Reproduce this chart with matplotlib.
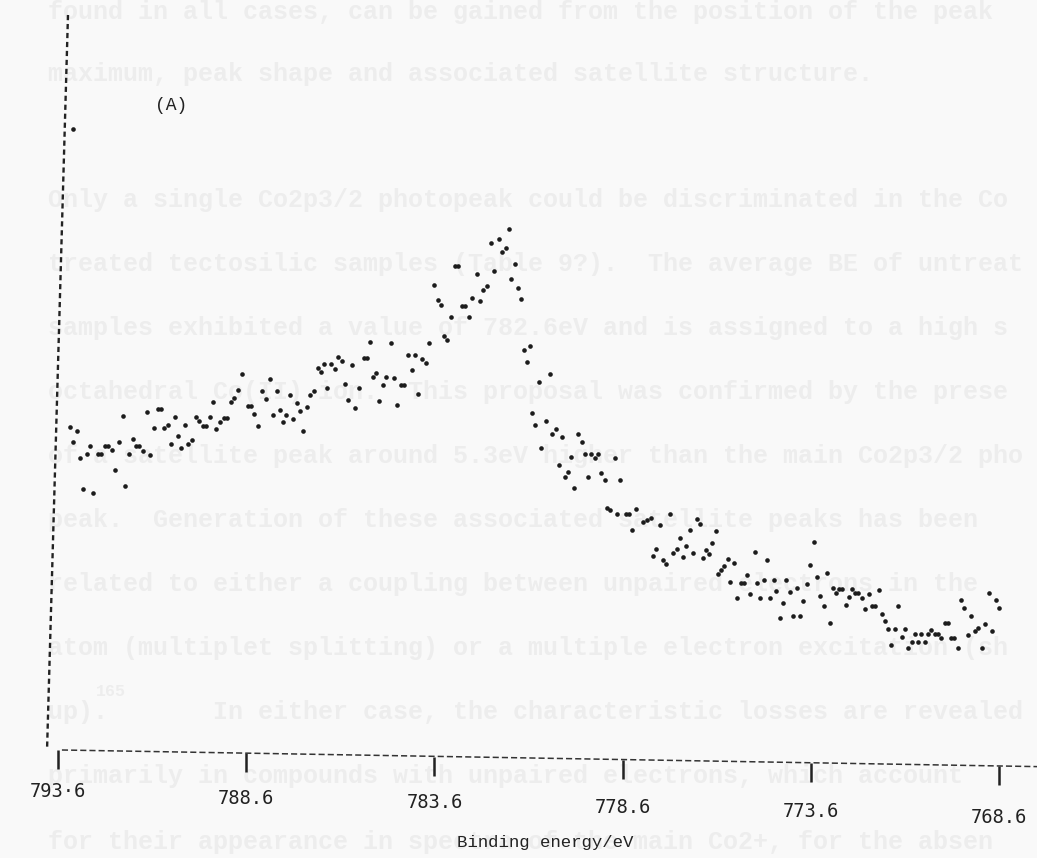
import matplotlib
matplotlib.use("Agg")
import matplotlib.pyplot as plt
from matplotlib.transforms import ScaledTranslation

# Co 2p XPS spectrum, sample (A): binding energy (eV) and counts (arbitrary units)
binding_energy = [
    793.29, 793.21, 793.20, 793.10, 793.02, 792.94, 792.84, 792.74, 792.66, 792.55,
    792.47, 792.35, 792.28, 792.17, 792.09, 791.98, 791.87, 791.82, 791.71, 791.62,
    791.53, 791.45, 791.35, 791.23, 791.16, 791.05, 790.94, 790.86, 790.78, 790.67,
    790.59, 790.50, 790.41, 790.32, 790.22, 790.14, 790.05, 789.93, 789.85, 789.75,
    789.67, 789.57, 789.47, 789.39, 789.30, 789.20, 789.12, 789.01, 788.92, 788.83,
    788.72, 788.54, 788.47, 788.39, 788.29, 788.17, 788.08, 787.97, 787.90, 787.79,
    787.71, 787.63, 787.53, 787.44, 787.36, 787.26, 787.18, 787.10, 786.99, 786.90,
    786.81, 786.70, 786.61, 786.53, 786.45, 786.35, 786.24, 786.15, 786.06, 785.98,
    785.90, 785.79, 785.71, 785.60, 785.47, 785.39, 785.30, 785.23, 785.14, 785.06,
    784.97, 784.88, 784.76, 784.68, 784.60, 784.50, 784.42, 784.29, 784.20, 784.11,
    784.04, 783.93, 783.83, 783.74, 783.60, 783.51, 783.42, 783.35, 783.26, 783.15,
    783.05, 782.96, 782.88, 782.80, 782.69, 782.59, 782.47, 782.40, 782.30, 782.19,
    782.09, 782.01, 781.89, 781.80, 781.71, 781.61, 781.56, 781.46, 781.39, 781.29,
    781.23, 781.15, 781.05, 781.01, 780.92, 780.81, 780.76, 780.64, 780.53, 780.47,
    780.38, 780.30, 780.20, 780.14, 780.05, 779.96, 779.89, 779.78, 779.69, 779.61,
    779.53, 779.43, 779.34, 779.25, 779.17, 779.08, 779.01, 778.94, 778.81, 778.75,
    778.67, 778.51, 778.44, 778.36, 778.24, 778.05, 777.94, 777.85, 777.79, 777.70,
    777.60, 777.53, 777.45, 777.34, 777.27, 777.16, 777.07, 776.99, 776.91, 776.81,
    776.73, 776.63, 776.55, 776.47, 776.39, 776.31, 776.22, 776.13, 776.07, 775.99,
    775.91, 775.81, 775.74, 775.65, 775.57, 775.45, 775.37, 775.29, 775.22, 775.09,
    775.03, 774.95, 774.85, 774.76, 774.68, 774.59, 774.52, 774.42, 774.34, 774.25,
    774.16, 774.07, 773.97, 773.90, 773.81, 773.71, 773.62, 773.52, 773.44, 773.36,
    773.25, 773.18, 773.10, 773.02, 772.94, 772.86, 772.77, 772.67, 772.59, 772.51,
    772.43, 772.34, 772.25, 772.16, 772.06, 771.97, 771.89, 771.80, 771.72, 771.63,
    771.54, 771.46, 771.36, 771.28, 771.19, 771.10, 771.02, 770.92, 770.83, 770.75,
    770.66, 770.57, 770.49, 770.40, 770.30, 770.22, 770.13, 770.04, 769.96, 769.87,
    769.79, 769.70, 769.61, 769.52, 769.43, 769.34, 769.25, 769.15, 769.06, 768.96,
    768.87, 768.78, 768.68, 768.59,
]
counts = [
    333, 631, 318, 329, 302, 271, 306, 314, 267, 306,
    306, 314, 314, 310, 290, 318, 344, 274, 306, 321,
    314, 314, 309, 348, 305, 332, 351, 351, 332, 335,
    316, 343, 324, 312, 335, 316, 320, 343, 339, 334,
    334, 343, 358, 331, 338, 342, 342, 358, 362, 370,
    386, 354, 354, 346, 334, 369, 361, 381, 345, 369,
    350, 338, 345, 365, 341, 357, 349, 329, 353, 365,
    369, 392, 388, 396, 372, 396, 391, 403, 399, 376,
    360, 395, 352, 372, 402, 402, 418, 383, 387, 359,
    375, 383, 417, 382, 355, 375, 375, 405, 390, 405,
    366, 401, 397, 417, 475, 460, 455, 424, 420, 443,
    494, 494, 454, 454, 443, 462, 486, 459, 470, 474,
    517, 489, 521, 508, 512, 531, 481, 496, 472, 461,
    410, 398, 414, 347, 335, 378, 312, 339, 386, 326,
    331, 295, 323, 283, 288, 303, 272, 326, 318, 306,
    283, 306, 302, 306, 287, 280, 252, 250, 302, 246,
    280, 246, 246, 230, 251, 238, 240, 242, 204, 211,
    235, 200, 196, 246, 207, 211, 222, 203, 214, 230,
    207, 241, 236, 202, 210, 206, 217, 229, 186, 190,
    194, 201, 178, 197, 162, 177, 177, 185, 166, 208,
    177, 162, 180, 200, 162, 180, 169, 142, 157, 180,
    168, 144, 172, 144, 159, 176, 195, 218, 183, 164,
    154, 187, 137, 172, 167, 171, 171, 155, 163, 171,
    167, 167, 162, 151, 166, 154, 154, 170, 146, 139,
    131, 115, 131, 154, 123, 131, 112, 118, 126, 118,
    126, 118, 126, 130, 126, 126, 122, 137, 137, 122,
    122, 112, 160, 152, 125, 144, 129, 132, 112, 136,
    167, 129, 160, 152,
]

tick_values = [793.6, 788.6, 783.6, 778.6, 773.6, 768.6]
tick_labels = ["793·6", "788.6", "783.6", "778.6", "773.6", "768.6"]
axis_label = "Binding energy/eV"
panel_label = "(A)"

# typescript of the facing page, faintly visible through the paper
page_lines = [
    "found in all cases, can be gained from the position of the peak",
    "maximum, peak shape and associated satellite structure.",
    "Only a single Co2p3/2 photopeak could be discriminated in the Co",
    "treated tectosilic samples (Table 9?).  The average BE of untreat",
    "samples exhibited a value of 782.6eV and is assigned to a high s",
    "octahedral Co(II) ion.  This proposal was confirmed by the prese",
    "of a satellite peak around 5.3eV higher than the main Co2p3/2 pho",
    "peak.  Generation of these associated satellite peaks has been",
    "related to either a coupling between unpaired electrons in the",
    "atom (multiplet splitting) or a multiple electron excitation (sh",
    "up).       In either case, the characteristic losses are revealed",
    "primarily in compounds with unpaired electrons, which account",
    "for their appearance in spectra of the main Co2+, for the absen",
]
page_rows = [12, 74, 200, 264, 328, 392, 456, 520, 584, 648, 712, 776, 842]

W, H = 1037, 858
fig = plt.figure(figsize=(W / 100, H / 100), dpi=100, facecolor="#f9f9f9")

faint = "#ededed"
for row, line in zip(page_rows, page_lines):
    fig.text(48 / W, 1 - row / H, line, family="Liberation Mono", fontsize=18,
             fontweight="bold", color=faint, va="center", ha="left", zorder=-5)
fig.text(96 / W, 1 - 692 / H, "165", family="Liberation Mono", fontsize=12,
         fontweight="bold", color=faint, va="center", ha="left", zorder=-5)

# axes box: 793.6 eV sits at x=58 px, 37.64 px per eV
ax = fig.add_axes([58 / W, 108 / H, 979 / W, 735 / H])
ax.set_zorder(2)
ax.patch.set_alpha(0)
ax.set_xlim(793.6, 793.6 - 979 / 37.64)
ax.set_ylim(10, 745)
for sp in ax.spines.values():
    sp.set_visible(False)

ax.scatter(binding_energy, counts, s=11, color="#1c1c1c", linewidths=0, zorder=3)

# typewriter-style dashed axes (the typed baseline drifts slightly downwards)
ax.plot([0.0102, -0.0112], [1.0, 0.0], transform=ax.transAxes, color="#222222",
        lw=1.7, ls=(0, (2.2, 1.6)), clip_on=False)
ax.plot([0.004, 1.0], [0.0, -0.0226], transform=ax.transAxes, color="#333333",
        lw=1.1, ls=(0, (4, 2)), clip_on=False)

ax.set_yticks([])
ax.set_xticks(tick_values, tick_labels)
ax.tick_params(axis="x", direction="out", length=14, width=1.8, color="#222222",
               pad=9, labelsize=13.5, labelcolor="#222222")

tick_drop = [0, 3.4, 6.6, 9.8, 13, 16]
label_drop = [0, 7, 11, 16, 20, 26]
for tick, d_t, d_l in zip(ax.xaxis.get_major_ticks(), tick_drop, label_drop):
    tick.tick1line.set_transform(
        tick.tick1line.get_transform() + ScaledTranslation(0, -d_t / 100, fig.dpi_scale_trans))
    tick.label1.set_transform(
        tick.label1.get_transform() + ScaledTranslation(0, -d_l / 100, fig.dpi_scale_trans))
    tick.label1.set_family("DejaVu Sans Mono")

ax.set_xlabel(axis_label, family="Liberation Mono", fontsize=12.5, color="#222222",
              va="center")
ax.xaxis.set_label_coords((545 - 58) / 979, (750 - 843) / 735)

ax.text((155 - 58) / 979, (750 - 105) / 735, panel_label, transform=ax.transAxes,
        family="Liberation Mono", fontsize=13, color="#222222", va="center", ha="left")

fig.savefig("out.png", dpi=100, facecolor=fig.get_facecolor())
